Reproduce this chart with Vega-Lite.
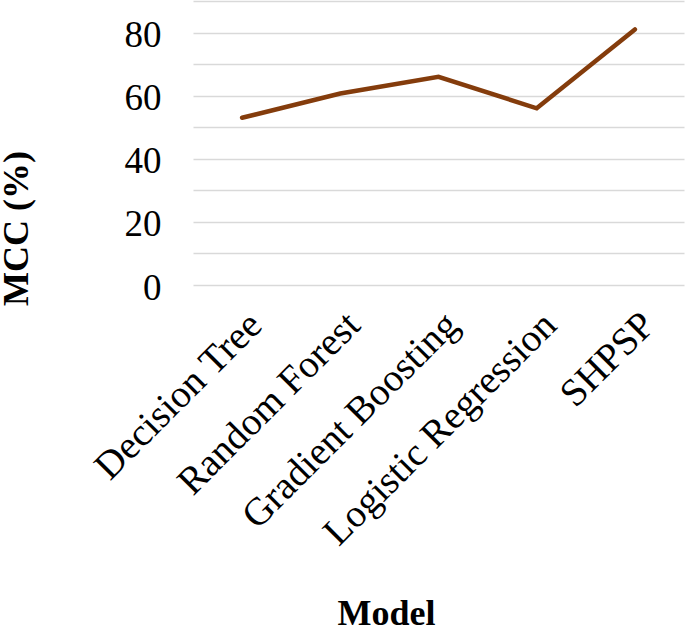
{
  "$schema": "https://vega.github.io/schema/vega-lite/v6.json",
  "width": 491,
  "height": 284,
  "autosize": {"type": "none"},
  "padding": {"left": 193, "top": 1, "right": 1, "bottom": 344},
  "background": "white",
  "data": {
    "values": [
      {"Model": "Decision Tree", "MCC": 53},
      {"Model": "Random Forest", "MCC": 60.7},
      {"Model": "Gradient Boosting", "MCC": 66},
      {"Model": "Logistic Regression", "MCC": 56},
      {"Model": "SHPSP", "MCC": 81}
    ]
  },
  "config": {
    "view": {"stroke": null},
    "font": "Liberation Serif"
  },
  "mark": {"type": "line", "color": "#843C0C", "strokeWidth": 4.5, "strokeCap": "round", "strokeJoin": "miter"},
  "encoding": {
    "x": {
      "field": "Model",
      "type": "nominal",
      "sort": null,
      "scale": {"type": "band", "paddingInner": 0, "paddingOuter": 0},
      "axis": {
        "title": "Model",
        "titleFont": "Liberation Serif",
        "titleFontSize": 36,
        "titleFontWeight": "bold",
        "titleColor": "black",
        "titleX": 193,
        "titleY": 339,
        "titleBaseline": "alphabetic",
        "labelFont": "Liberation Serif",
        "labelFontSize": 39,
        "labelColor": "black",
        "labelAngle": -45,
        "labelPadding": 20,
        "labelLimit": 0,
        "ticks": false,
        "domain": false,
        "grid": false
      }
    },
    "y": {
      "field": "MCC",
      "type": "quantitative",
      "scale": {"domain": [0, 90], "nice": false},
      "axis": {
        "title": "MCC (%)",
        "titleFont": "Liberation Serif",
        "titleFontSize": 36,
        "titleFontWeight": "bold",
        "titleColor": "black",
        "titleX": -158,
        "titleY": 227,
        "values": [0, 10, 20, 30, 40, 50, 60, 70, 80, 90],
        "labelExpr": "datum.value % 20 == 0 && datum.value < 90 ? datum.label : ''",
        "labelFont": "Liberation Serif",
        "labelFontSize": 37,
        "labelColor": "black",
        "labelPadding": 32,
        "labelOffset": 3,
        "ticks": false,
        "domain": false,
        "grid": true,
        "gridColor": "#d9d9d9",
        "gridWidth": 1.5
      }
    }
  }
}
